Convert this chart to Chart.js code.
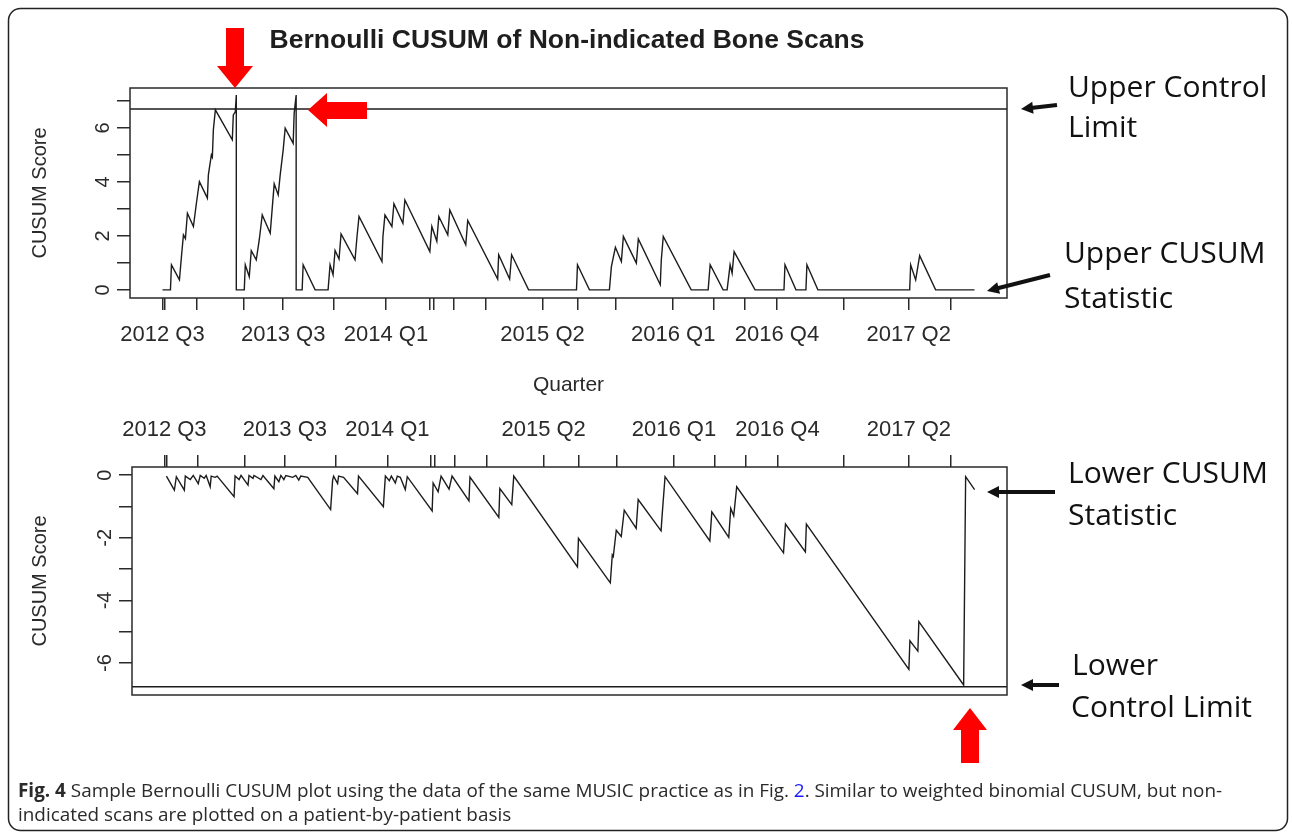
<!DOCTYPE html>
<html><head><meta charset="utf-8">
<script src="https://cdn.jsdelivr.net/npm/chart.js@4.4.1/dist/chart.umd.min.js"></script>
<style>
html,body{margin:0;padding:0;background:#fff;}
#page{position:relative;width:1292px;height:837px;overflow:hidden;background:#fff;}
canvas{position:absolute;}
#cTop{left:0;top:60px;}
#cBot{left:2px;top:400px;}
#ov{position:absolute;left:0;top:0;}
</style></head><body>
<div id="page">
<canvas id="cTop" width="1040" height="350"></canvas>
<canvas id="cBot" width="1038" height="320"></canvas>
<svg id="ov" width="1292" height="837" xmlns="http://www.w3.org/2000/svg">
  <rect x="8.5" y="8.5" width="1279" height="822" rx="12" ry="12" fill="none" stroke="#222" stroke-width="1.5"/>
  <text x="567" y="48" text-anchor="middle" font-family="Liberation Sans, Arial, sans-serif" font-weight="bold" font-size="26.5" fill="#1e1e1e">Bernoulli CUSUM of Non-indicated Bone Scans</text>
  <g fill="#ff0000">
    <polygon points="226,28 244,28 244,66 253,66 235,88 217,66 226,66"/>
    <polygon points="367,102 327,102 327,93 308,110 327,127 327,119 367,119"/>
    <polygon points="961,763 979,763 979,730 987,730 970,708 953,730 961,730"/>
  </g>
  <g id="blackArrows" fill="#111" stroke="#111"></g>
  <g font-family="Open Sans, sans-serif" font-size="30" fill="#111">
    <text x="1068" y="97">Upper Control</text>
    <text x="1068" y="137">Limit</text>
    <text x="1064" y="263">Upper CUSUM</text>
    <text x="1064" y="308">Statistic</text>
    <text x="1068" y="483">Lower CUSUM</text>
    <text x="1068" y="525">Statistic</text>
    <text x="1072" y="675">Lower</text>
    <text x="1071" y="717">Control Limit</text>
  </g>
  <g font-family="Open Sans, sans-serif" font-size="18.9" fill="#2a2a2a">
    <text x="18" y="797"><tspan font-weight="bold">Fig. 4</tspan> Sample Bernoulli CUSUM plot using the data of the same MUSIC practice as in Fig. <tspan fill="#1a1aff">2</tspan>. Similar to weighted binomial CUSUM, but non-</text>
    <text x="18" y="821">indicated scans are plotted on a patient-by-patient basis</text>
  </g>
</svg>
</div>
<script>
// ---------- data (patient index, CUSUM score) ----------
const firstPatient = 1;
const lastPatient = 815;
const upperLimit = 6.7;
const lowerLimit = -6.76;

const upperCusum = [
  [1,0],[9,0],[10,0.93],[18,0.37],[20,1.23],[22,2.04],[24,1.9],[26,2.84],[32,2.35],[35,3.21],[38,4.01],
  [46,3.40],[47,4.26],[50,5.0],[51,4.92],[52,5.93],[54,6.67],[71,5.56],[72,6.48],[74,6.6],[75,7.22],[75,0],
  [76,0],[83,0],[84,0.93],[88,0.49],[90,1.45],[95,1.11],[98,1.85],[101,2.78],[109,2.10],[111,3.02],[113,3.93],
  [117,3.52],[119,4.26],[122,5.19],[124,5.99],[132,5.43],[133,6.54],[135,7.22],[135,0],
  [136,0],[141,0],[142,0.93],[154,0],[167,0],[169,0.93],[172,0.56],[174,1.46],[178,1.14],[180,2.07],
  [194,1.11],[196,1.98],[198,2.72],[221,1.05],[222,1.98],[224,2.78],[231,2.35],[233,3.19],[242,2.47],[244,3.33],
  [269,1.42],[271,2.35],[276,1.80],[278,2.72],[287,2.04],[289,2.96],[305,1.67],[307,2.57],[337,0.40],[338,1.30],
  [349,0.40],[351,1.30],[368,0],[416,0],[417,0.93],[429,0],[449,0],[451,0.86],[455,1.58],[461,1.05],[463,1.98],
  [476,0.99],[478,1.89],[500,0.19],[501,1.1],[503,1.98],[531,0],[548,0],[550,0.93],[563,0],[567,0],[570,0.93],
  [572,0.62],[574,1.42],[595,0],[624,0],[625,0.93],[636,0],[646,0],[647,0.93],[658,0],[750,0],[751,0.93],
  [756,0.37],[760,1.27],[776,0],[815,0]
];

const lowerCusum = [
  [3,-0.03],[11,-0.48],[13,-0.05],[21,-0.48],[22,-0.03],[27,-0.14],[30,-0.01],[35,-0.27],[37,-0.01],[41,-0.1],
  [43,-0.01],[47,-0.37],[48,-0.03],[52,-0.07],[54,-0.03],[71,-0.69],[72,-0.03],[76,-0.14],[78,-0.01],[85,-0.32],
  [86,-0.01],[90,-0.1],[91,-0.01],[98,-0.14],[100,-0.01],[111,-0.43],[112,-0.03],[116,-0.21],[118,-0.01],[121,-0.14],
  [123,-0.01],[130,-0.07],[133,-0.01],[136,-0.16],[138,-0.03],[145,-0.07],[168,-1.10],[170,-0.16],[171,-0.03],
  [175,-0.27],[176,-0.03],[181,-0.07],[195,-0.59],[196,-0.03],[221,-1.01],[223,-0.03],[227,-0.18],[229,-0.03],
  [233,-0.25],[235,-0.03],[238,-0.07],[243,-0.46],[245,-0.05],[270,-1.14],[271,-0.25],[276,-0.53],[279,-0.03],
  [287,-0.45],[290,-0.03],[307,-0.82],[308,-0.06],[337,-1.35],[338,-0.43],[350,-0.94],[352,-0.03],[416,-2.93],
  [417,-2.02],[449,-3.44],[451,-2.55],[452,-2.6],[455,-1.76],[460,-1.96],[463,-1.12],[475,-1.70],[477,-0.78],
  [500,-1.78],[501,-1.31],[504,-0.05],[549,-2.10],[551,-1.17],[568,-1.99],[570,-1.06],[573,-1.30],[576,-0.37],
  [623,-2.48],[625,-1.56],[645,-2.45],[646,-1.56],[749,-6.20],[750,-5.29],[758,-5.62],[759,-4.68],[804,-6.70],
  [805,-3.40],[806,-0.05],[815,-0.46]
];

const quarterLabels = ['2012 Q3','2012 Q4','2013 Q1','2013 Q2','2013 Q3','2013 Q4','2014 Q1','2014 Q2','2014 Q3',
  '2014 Q4','2015 Q1','2015 Q2','2015 Q3','2015 Q4','2016 Q1','2016 Q2','2016 Q3','2016 Q4','2017 Q1','2017 Q2','2017 Q3'];
const quarterStart = [1,3,35,82,122,173,225,269,273,293,325,382,417,455,513,554,585,617,684,749,791];
const labeledQuarters = ['2012 Q3','2013 Q3','2014 Q1','2015 Q2','2016 Q1','2016 Q4','2017 Q2'];

const upperTicks = [0,1,2,3,4,5,6,7];
const upperTickLabels = [0,2,4,6];
const lowerTicks = [0,-1,-2,-3,-4,-5,-6];
const lowerTickLabels = [0,-2,-4,-6];

// ---------- drawing ----------
const FONT = '"Liberation Sans", Arial, Helvetica, sans-serif';
const INK = '#2a2a2a';
const xPad = 0.04 * (lastPatient - firstPatient);
const xMin = firstPatient - xPad, xMax = lastPatient + xPad;

const framePlugin = {
  id: 'frame',
  afterDraw(chart, args, opts) {
    const {ctx, chartArea: a} = chart;
    ctx.save();
    ctx.strokeStyle = INK; ctx.lineWidth = 1.5;
    ctx.strokeRect(a.left, a.top, a.right - a.left, a.bottom - a.top);
    const ys = chart.scales.y;
    ctx.fillStyle = INK;
    ctx.font = '20px ' + FONT;
    ctx.textAlign = 'center'; ctx.textBaseline = 'alphabetic';
    (opts.labels || []).forEach(v => {
      const py = ys.getPixelForValue(v);
      ctx.save();
      ctx.translate(a.left - opts.offset, py);
      ctx.rotate(-Math.PI / 2);
      ctx.fillText(String(v), 0, 0);
      ctx.restore();
    });
    ctx.restore();
  }
};

function lineSet(points, w) {
  return { data: points.map(([x, y]) => ({x, y})), showLine: true, borderColor: '#1c1c1c',
           borderWidth: w, pointRadius: 0, tension: 0, fill: false };
}

function makeChart(id, opt) {
  return new Chart(document.getElementById(id), {
    type: 'scatter',
    data: { datasets: [
      lineSet(opt.series, 1.4),
      lineSet([[xMin, opt.limit], [xMax, opt.limit]], 1.5)
    ]},
    options: {
      responsive: false, animation: false, devicePixelRatio: 1,
      layout: { padding: opt.padding },
      plugins: { legend: {display: false}, tooltip: {enabled: false},
                 frame: { labels: opt.yLabels, offset: 21 } },
      scales: {
        x: {
          type: 'linear', position: opt.xPos, min: xMin, max: xMax,
          afterBuildTicks: s => { s.ticks = quarterStart.map(v => ({value: v})); },
          afterFit: s => { s.height = opt.xHeight; },
          ticks: { autoSkip: false, maxRotation: 0, minRotation: 0, padding: 12, color: INK,
                   font: {family: FONT, size: 22},
                   callback: (v, i) => labeledQuarters.includes(quarterLabels[i]) ? quarterLabels[i] : '' },
          grid: { drawOnChartArea: false, drawTicks: true, tickLength: 12, color: INK, lineWidth: 1.5 },
          border: { display: false },
          title: { display: opt.xTitle, text: 'Quarter', color: INK, font: {family: FONT, size: 21},
                   padding: {top: 0, bottom: 12} }
        },
        y: {
          type: 'linear', min: opt.yMin, max: opt.yMax,
          afterBuildTicks: s => { s.ticks = opt.yTicks.map(v => ({value: v})); },
          afterFit: s => { s.width = 130; },
          ticks: { display: false },
          grid: { drawOnChartArea: false, drawTicks: true, tickLength: 13, color: INK, lineWidth: 1.5 },
          border: { display: false },
          title: { display: true, text: 'CUSUM Score', color: INK, font: {family: FONT, size: 20},
                   padding: {top: opt.titlePad, bottom: 0} }
        }
      }
    },
    plugins: [framePlugin]
  });
}

makeChart('cTop', { series: upperCusum, limit: upperLimit, yMin: -0.3, yMax: 7.48,
  yTicks: upperTicks, yLabels: upperTickLabels, xPos: 'bottom', xHeight: 112, xTitle: true,
  padding: {top: 28, right: 33, left: 0, bottom: 0}, titlePad: 28 });

makeChart('cBot', { series: lowerCusum, limit: lowerLimit, yMin: -7.02, yMax: 0.26,
  yTicks: lowerTicks, yLabels: lowerTickLabels, xPos: 'top', xHeight: 67, xTitle: false,
  padding: {top: 0, right: 33, left: 0, bottom: 25}, titlePad: 26 });

// ---------- black annotation arrows ----------
const NS = 'http://www.w3.org/2000/svg';
const g = document.getElementById('blackArrows');
[[1057,105,1021,109],[1050,275,987,291],[1055,492,987,492],[1059,685,1021,685]].forEach(([x1,y1,x2,y2]) => {
  const dx = x2 - x1, dy = y2 - y1, len = Math.hypot(dx, dy);
  const ux = dx / len, uy = dy / len, L = 12, W = 12;
  const bx = x2 - ux * L, by = y2 - uy * L;
  const ln = document.createElementNS(NS, 'line');
  ln.setAttribute('x1', x1); ln.setAttribute('y1', y1);
  ln.setAttribute('x2', bx + ux * 2); ln.setAttribute('y2', by + uy * 2);
  ln.setAttribute('stroke-width', 4);
  g.appendChild(ln);
  const pg = document.createElementNS(NS, 'polygon');
  pg.setAttribute('points', `${x2},${y2} ${bx - uy * W / 2},${by + ux * W / 2} ${bx + uy * W / 2},${by - ux * W / 2}`);
  pg.setAttribute('stroke', 'none');
  g.appendChild(pg);
});
</script>
</body></html>
